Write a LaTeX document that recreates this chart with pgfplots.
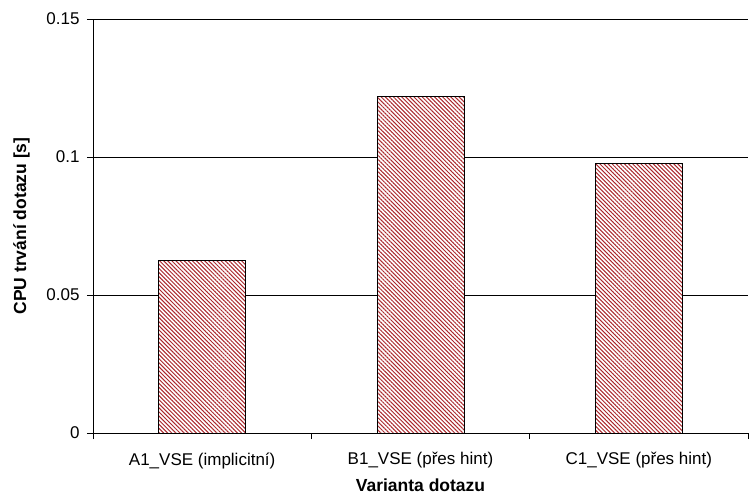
\documentclass[border=0pt]{standalone}
\usepackage{pgfplots}
\pgfplotsset{compat=1.18}
\usepackage{fontspec}
\setmainfont{Liberation Sans}
\usetikzlibrary{patterns.meta}

\definecolor{hatchred}{RGB}{170,40,45}

\begin{document}
\begin{tikzpicture}[x=1pt,y=1pt]
\path[use as bounding box] (0,0) rectangle (749,495);
\begin{axis}[
  at={(93pt,62pt)}, anchor=south west,
  scale only axis,
  width=655pt, height=414pt,
  xmin=-0.5, xmax=2.5,
  ymin=0, ymax=0.15,
  axis lines*=left,
  axis line style={black, line width=0.9pt},
  tick align=outside,
  major tick length=6pt,
  tick style={black, line width=0.9pt},
  xtick={-0.5,0.5,1.5,2.5},
  x tick label as interval,
  xticklabels={A1\_VSE (implicitní), B1\_VSE (přes hint), C1\_VSE (přes hint)},
  ytick={0,0.05,0.1,0.15},
  yticklabels={0,0.05,0.1,0.15},
  ymajorgrids,
  major grid style={black, line width=0.9pt},
  /pgf/number format/assume math mode=true,
  tick label style={font=\fontsize{17}{20}\selectfont},
  yticklabel style={xshift=-4pt},
  xticklabel style={yshift=-10pt},
  xlabel={Varianta dotazu},
  ylabel={CPU trvání dotazu [s]},
  label style={font=\bfseries\fontsize{17.5}{20}\selectfont},
  xlabel style={at={(axis description cs:0.5,-0.127)}, anchor=center},
  ylabel style={at={(axis description cs:-0.109,0.5)}, anchor=center},
]
% white bars hide the grid; the hatching is laid on top
\addplot[ybar, bar width=87pt, draw=black, line width=0.8pt, fill=white,
  postaction={pattern={Lines[angle=-45, distance=2.9pt, line width=1pt]},
    pattern color=hatchred}]
  coordinates {(0,0.0625) (1,0.122) (2,0.0975)};
\end{axis}
\end{tikzpicture}
\end{document}
